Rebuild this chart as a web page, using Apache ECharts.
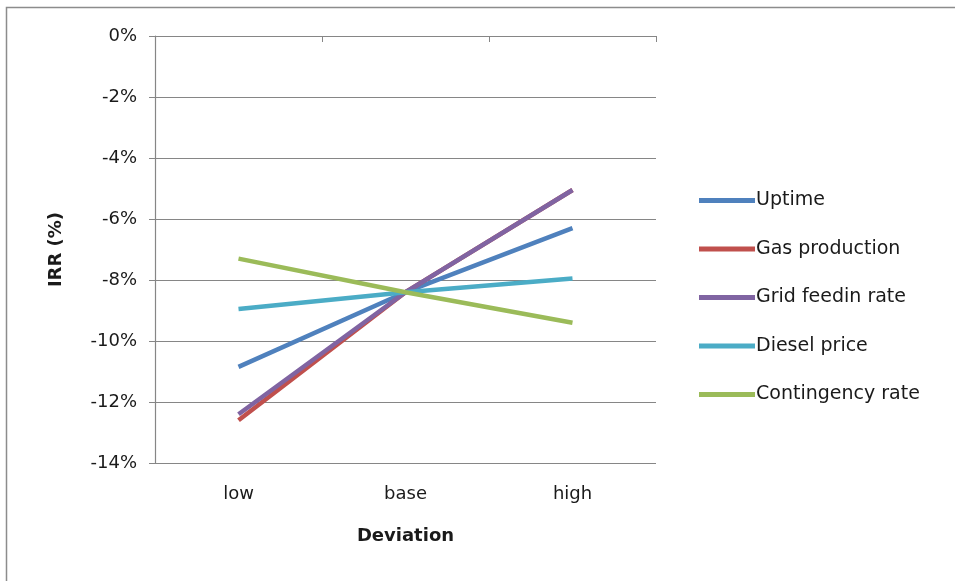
<!DOCTYPE html>
<html><head><meta charset="utf-8">
<script src="https://cdn.jsdelivr.net/npm/echarts@6/dist/echarts.min.js"></script>
<style>html,body{margin:0;padding:0;background:#fff}#c{width:955px;height:581px}</style>
</head><body><div id="c"></div>
<script>
const categories = ['low', 'base', 'high'];
const uptime = [-10.85, -8.4, -6.3];
const gasProduction = [-12.6, -8.4, -5.05];
const gridFeedin = [-12.4, -8.4, -5.05];
const dieselPrice = [-8.95, -8.4, -7.95];
const contingencyRate = [-7.3, -8.4, -9.4];
const seriesNames = ['Uptime', 'Gas production', 'Grid feedin rate', 'Diesel price', 'Contingency rate'];
const seriesData = [uptime, gasProduction, gridFeedin, dieselPrice, contingencyRate];
const colors = ['#4F81BD', '#C0504D', '#8064A2', '#4BACC6', '#9BBB59'];
const FONT = '"DejaVu Sans", sans-serif';

const chart = echarts.init(document.getElementById('c'), null, {renderer: 'canvas'});
chart.setOption({
  animation: false,
  color: colors,
  graphic: [{
    type: 'rect', shape: {x: 6.5, y: 7.5, width: 1000, height: 1000},
    style: {fill: 'none', stroke: '#8c8c8c', lineWidth: 1.5}, z: -10
  }],
  grid: {left: 155, right: 299, top: 36, bottom: 118},
  legend: {
    orient: 'vertical', left: 694, top: 186,
    itemWidth: 56, itemHeight: 5, itemGap: 29.5,
    icon: 'rect',
    textStyle: {fontFamily: FONT, fontSize: 19, color: '#1a1a1a', padding: [0, 0, 0, -4]},
    data: seriesNames
  },
  xAxis: {
    type: 'category', data: categories, boundaryGap: true,
    name: 'Deviation', nameLocation: 'middle', nameGap: 64,
    nameTextStyle: {fontFamily: FONT, fontSize: 18, fontWeight: 'bold', color: '#1a1a1a'},
    axisLine: {lineStyle: {color: '#868686', width: 1.2}},
    axisTick: {show: true, length: 6, alignWithLabel: false, lineStyle: {color: '#868686'}},
    axisLabel: {fontFamily: FONT, fontSize: 18, color: '#1a1a1a', margin: 22}
  },
  yAxis: {
    type: 'value', min: -14, max: 0, interval: 2,
    name: 'IRR (%)', nameLocation: 'middle', nameGap: 90, nameRotate: 90,
    nameTextStyle: {fontFamily: FONT, fontSize: 18, fontWeight: 'bold', color: '#1a1a1a'},
    axisLine: {show: true, lineStyle: {color: '#868686', width: 1.2}},
    axisTick: {show: true, length: 6, inside: false, lineStyle: {color: '#868686'}},
    splitLine: {lineStyle: {color: '#868686', width: 1.2}},
    axisLabel: {fontFamily: FONT, fontSize: 18, color: '#1a1a1a', margin: 18,
      formatter: v => v + '%'}
  },
  series: seriesNames.map((n, i) => ({
    name: n, type: 'line', data: seriesData[i], symbol: 'none',
    lineStyle: {width: 4.5, color: colors[i]}, itemStyle: {color: colors[i]}
  }))
});
</script></body></html>
